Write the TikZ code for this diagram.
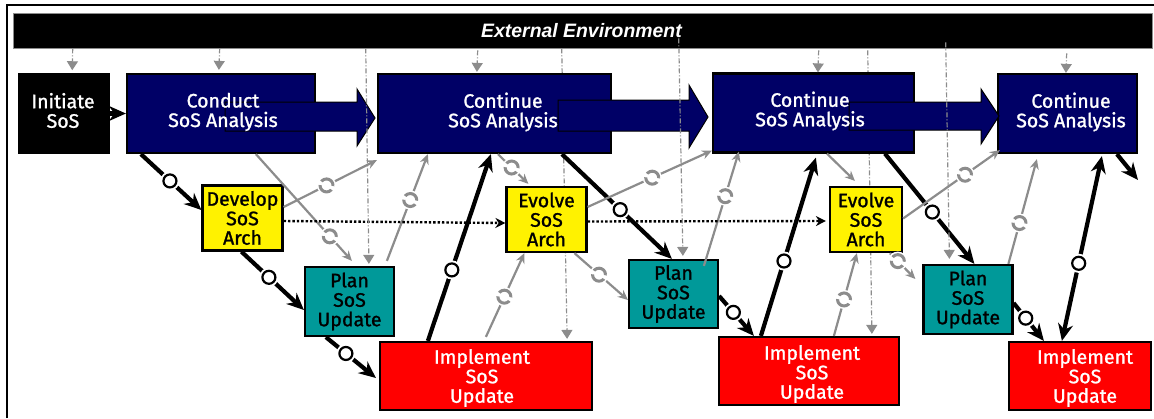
\documentclass[tikz,border=0pt]{standalone}
\usepackage{fontspec}
\usetikzlibrary{arrows.meta,backgrounds}
\newfontfamily\boxfont[FakeBold=1.2]{Fira Sans}
\newfontfamily\barfont{Liberation Sans}
\definecolor{sosnavy}{HTML}{000066}
\definecolor{sosteal}{HTML}{009999}
\definecolor{sosgray}{HTML}{8C8C8C}
\begin{document}
\begin{tikzpicture} [x=1pt, y=-1pt]
\tikzstyle{every node}=[inner sep=0pt, align=center, font=\boxfont\fontsize{19.5}{19.5}\selectfont];
\tikzstyle{initbox}=[draw=black, line width=1.5pt, fill=black, minimum height=79pt];
\tikzstyle{analysisbox}=[draw=black, line width=2.2pt, fill=sosnavy, minimum height=79pt];
\tikzstyle{whitelabel}=[text=white];
\tikzstyle{archbox}=[draw=black, line width=2.2pt, fill=yellow, minimum width=80pt, minimum height=65pt];
\tikzstyle{planbox}=[draw=black, line width=2.2pt, fill=sosteal, minimum width=89pt, minimum height=69pt];
\tikzstyle{implbox}=[draw=black, line width=2.2pt, fill=red, minimum height=68pt];
\tikzstyle{blockarrow}=[draw=black, line width=1pt, fill=sosnavy];
\tikzstyle{mainflow}=[draw=black, line width=4.2pt, -{Stealth[length=17pt,width=15pt]}];
\tikzstyle{sideflow}=[draw=sosgray, line width=2.2pt, -{Stealth[length=10pt,width=9pt]}];
\tikzstyle{archflow}=[draw=black, line width=2.4pt, dotted, -{Stealth[length=10pt,width=10pt]}];
\tikzstyle{envflow}=[draw=sosgray, line width=1.2pt, dash pattern=on 5pt off 2pt on 1pt off 2pt, -{Triangle[length=9pt,width=11pt,fill=sosgray]}];
\tikzstyle{blackring}=[circle, draw=black, fill=white, line width=2.2pt, minimum size=13pt, preaction={draw=white, line width=6pt}];
\tikzstyle{grayring}=[circle, draw=sosgray, fill=white, line width=3pt, minimum size=13pt, dash pattern=on 16pt off 4pt, preaction={draw=white, solid, line width=6pt}];
\useasboundingbox (0,0) rectangle (1154,418);
\draw [line width=2pt] (7,418) -- (7,5) -- (1154,5);
\node [fill=black, draw=sosgray, line width=.6pt, minimum width=1139pt, minimum height=35pt, text=white, font=\barfont\bfseries\itshape\fontsize{19.4}{22}\selectfont] (envbar) at (582.5,30.5) {\hspace{-2pt}External Environment};
\node [initbox, minimum width=90pt] (initiate) at (64,113.5) {};
\node [analysisbox, minimum width=188pt] (conduct) at (221,113.5) {};
\node [analysisbox, minimum width=233pt] (continue1) at (494.5,113.5) {};
\node [analysisbox, minimum width=201pt] (continue2) at (813.5,113) {};
\node [analysisbox, minimum width=139pt] (continue3) at (1067.5,113.5) {};
\node [archbox] (develop) at (242.5,218) {Develop\\SoS\\Arch};
\node [archbox] (evolve1) at (546.5,219.5) {Evolve\\SoS\\Arch};
\node [archbox, minimum width=72pt] (evolve2) at (866,219.5) {Evolve\\SoS\\Arch};
\node [planbox] (plan1) at (349.5,301.5) {Plan\\SoS\\Update};
\node [planbox, minimum height=68pt] (plan2) at (673.5,294) {Plan\\SoS\\Update};
\node [planbox] (plan3) at (968,299.5) {Plan\\SoS\\Update};
\node [implbox, minimum width=212pt] (impl1) at (486,376) {};
\node [implbox, minimum width=180pt] (impl2) at (809,371) {};
\node [implbox, minimum width=142pt] (impl3) at (1080,376) {};
\draw [blockarrow] (225,102) -- (357,102) -- (357,89) -- (375,118) -- (357,146) -- (357,131) -- (225,131) -- cycle;
\draw [blockarrow] (558,100) -- (689,100) -- (689,85) -- (708,117) -- (689,148) -- (689,131) -- (558,131) -- cycle;
\draw [blockarrow] (849,102) -- (981,102) -- (981,89) -- (999,116) -- (981,144) -- (981,130) -- (849,130) -- cycle;
\node [whitelabel] (initiatelabel) at (63,110.5) {Initiate\\SoS};
\node [whitelabel] (conductlabel) at (223,112) {Conduct\\SoS Analysis};
\node [whitelabel] (continue1label) at (503,112) {Continue\\SoS Analysis};
\node [whitelabel] (continue2label) at (810,111) {Continue\\SoS Analysis};
\node [whitelabel] (continue3label) at (1071,112) {Continue\\SoS Analysis};
\node [whitelabel] (impl1label) at (482,378) {Implement\\SoS\\Update};
\node [whitelabel] (impl2label) at (812,374) {Implement\\SoS\\Update};
\node [whitelabel] (impl3label) at (1085,378) {Implement\\SoS\\Update};
% black flow
\draw [mainflow] (initiate) -- (conduct);
\draw [mainflow] ([xshift=15pt]conduct.south west) -- ([yshift=8pt]develop.west) node [blackring, pos=.48] (ring1) {};
\draw [mainflow] ([xshift=40pt]develop.south west) -- ([yshift=-8.5pt]plan1.west) node [blackring, pos=.44] (ring2) {};
\draw [mainflow] ([xshift=22pt]plan1.south west) -- ([xshift=-3pt,yshift=-2pt]impl1.west) node [blackring, pos=.4] (ring3) {};
\draw [mainflow] ([xshift=49pt]impl1.north west) -- ([xshift=114pt]continue1.south west) node [blackring, pos=.38] (ring4) {};
\draw [mainflow] ([xshift=185pt]continue1.south west) -- ([xshift=44pt]plan2.north west) node [blackring, pos=.53] (ring5) {};
\draw [mainflow] ([yshift=-2pt]plan2.east) -- ([xshift=36pt]impl2.north west) node [blackring, pos=.41] (ring6) {};
\draw [mainflow] ([xshift=43pt]impl2.north west) -- ([xshift=104pt,yshift=-4pt]continue2.south west) node [blackring, pos=.42] (ring7) {};
\draw [mainflow] ([xshift=173pt]continue2.south west) -- ([xshift=52pt]plan3.north west) node [blackring, pos=.53] (ring8) {};
\draw [mainflow] ([yshift=-3.5pt]plan3.east) -- ([xshift=36pt]impl3.north west) node [blackring, pos=.4] (ring9) {};
\draw [mainflow, {Stealth[length=17pt,width=15pt]}-{Stealth[length=17pt,width=15pt]}] ([xshift=54pt]impl3.north west) -- ([xshift=105pt,yshift=-2pt]continue3.south west) node [blackring, pos=.42] (ring10) {};
\coordinate (contout) at (1138,180);
\draw [mainflow] ([xshift=120pt]continue3.south west) -- (contout);
% gray flow
\draw [sideflow] ([yshift=11pt]develop.east) -- ([yshift=-6pt]continue1.south west) node [grayring, pos=.46] (ring11) {};
\draw [sideflow] ([xshift=130pt]conduct.south west) -- ([xshift=48pt,yshift=5pt]plan1.north west) node [grayring, pos=.77] (ring12) {};
\draw [sideflow] ([xshift=83pt,yshift=5pt]plan1.north west) -- ([xshift=51pt]continue1.south west) node [grayring, pos=.57] (ring13) {};
\draw [sideflow] ([xshift=107pt,yshift=4pt]impl1.north west) -- ([xshift=19pt]evolve1.south west) node [grayring, pos=.48] (ring14) {};
\draw [sideflow] ([xshift=121pt]continue1.south west) -- ([xshift=23pt,yshift=2pt]evolve1.north west) node [grayring, pos=.45] (ring15) {};
\draw [sideflow] ([yshift=12.5pt]evolve1.east) -- ([yshift=3pt]continue2.south west) node [grayring, pos=.52] (ring16) {};
\draw [sideflow] ([xshift=69pt]evolve1.south west) -- ([yshift=-6pt]plan2.west) node [grayring, pos=.46] (ring17) {};
\draw [sideflow] ([xshift=76pt,yshift=-7pt]plan2.north west) -- ([xshift=27pt,yshift=2pt]continue2.south west) node [grayring, pos=.61] (ring18) {};
\draw [sideflow] ([xshift=116pt]impl2.north west) -- ([xshift=28pt]evolve2.south west) node [grayring, pos=.44] (ring19) {};
\draw [sideflow] ([xshift=115pt]continue2.south west) -- ([xshift=26pt,yshift=5pt]evolve2.north west);
\draw [sideflow] ([yshift=1pt]evolve2.east) -- ([xshift=3pt,yshift=4pt]continue3.south west) node [grayring, pos=.64] (ring20) {};
\draw [sideflow] ([xshift=61pt]evolve2.south west) -- ([xshift=-7pt,yshift=20.5pt]plan3.west) node [grayring, pos=.31] (ring21) {};
\draw [sideflow] ([xshift=86pt]plan3.north west) -- ([xshift=40pt,yshift=-5pt]continue3.south west) node [grayring, pos=.39] (ring22) {};
% dotted
\draw [archflow] ([yshift=-3pt]develop.east) -- ([yshift=-3.5pt]evolve1.west);
\draw [archflow] ([yshift=-2pt]evolve1.east) -- ([xshift=-3pt,yshift=-1.5pt]evolve2.west);
% environment
\draw [envflow] ([xshift=60pt]envbar.south west) -- ([xshift=54pt,yshift=3pt]initiate.north west);
\draw [envflow] ([xshift=207pt]envbar.south west) -- ([xshift=93pt,yshift=3pt]conduct.north west);
\draw [envflow] ([xshift=465pt,yshift=-2pt]envbar.south west) -- ([xshift=100pt,yshift=1pt]continue1.north west);
\draw [envflow] ([xshift=806pt,yshift=-2pt]envbar.south west) -- ([xshift=106pt]continue2.north west);
\draw [envflow] ([xshift=1054pt,yshift=-5pt]envbar.south west) -- ([xshift=69pt]continue3.north west);
\draw [envflow] ([xshift=353pt]envbar.south west) -- ([xshift=65pt,yshift=2pt]plan1.north west);
\draw [envflow] ([xshift=666pt,yshift=10pt]envbar.south west) -- ([xshift=55pt,yshift=3pt]plan2.north west);
\draw [envflow] ([xshift=933pt,yshift=6pt]envbar.south west) -- ([xshift=27pt,yshift=5pt]plan3.north west);
\begin{scope}[on background layer]
\draw [envflow] ([xshift=549pt]envbar.south west) -- ([xshift=-26pt,yshift=2pt]impl1.north east);
\draw [envflow] ([xshift=855pt,yshift=-2pt]envbar.south west) -- ([xshift=154pt,yshift=2pt]impl2.north west);
\end{scope}
\end{tikzpicture}
\end{document}
